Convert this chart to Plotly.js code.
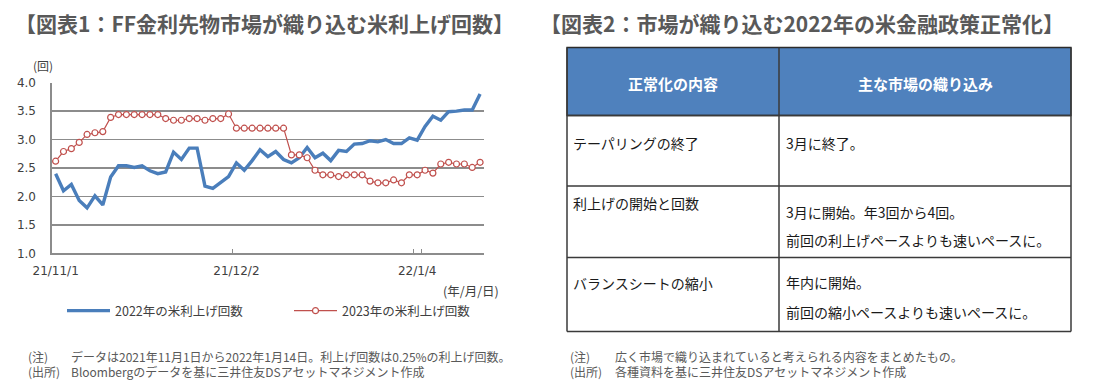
<!DOCTYPE html>
<html><head><meta charset="utf-8">
<script src="https://cdn.plot.ly/plotly-3.0.1.min.js"></script>
<style>html,body{margin:0;padding:0;background:#fff}#chart{width:1099px;height:381px}</style>
</head><body><div id="chart"></div>
<script>
// ---------- data ----------
const dates = [
  '2021-11-01','2021-11-02','2021-11-03','2021-11-04','2021-11-05',
  '2021-11-08','2021-11-09','2021-11-10','2021-11-11','2021-11-12',
  '2021-11-15','2021-11-16','2021-11-17','2021-11-18','2021-11-19',
  '2021-11-22','2021-11-23','2021-11-24','2021-11-25','2021-11-26',
  '2021-11-29','2021-11-30',
  '2021-12-01','2021-12-02','2021-12-03',
  '2021-12-06','2021-12-07','2021-12-08','2021-12-09','2021-12-10',
  '2021-12-13','2021-12-14','2021-12-15','2021-12-16','2021-12-17',
  '2021-12-20','2021-12-21','2021-12-22','2021-12-23','2021-12-24',
  '2021-12-27','2021-12-28','2021-12-29','2021-12-30','2021-12-31',
  '2022-01-03','2022-01-04','2022-01-05','2022-01-06','2022-01-07',
  '2022-01-10','2022-01-11','2022-01-12','2022-01-13','2022-01-14'
];
const hikes2022 = [
  2.40,2.10,2.21,1.93,1.80,2.01,1.85,2.34,2.54,2.54,
  2.51,2.54,2.45,2.40,2.43,2.78,2.65,2.85,2.85,2.18,
  2.14,2.24,2.35,2.59,2.46,2.63,2.82,2.70,2.79,2.65,
  2.59,2.68,2.86,2.68,2.76,2.63,2.81,2.79,2.92,2.93,
  2.98,2.96,3.00,2.93,2.93,3.03,2.99,3.23,3.41,3.34,
  3.49,3.50,3.52,3.52,3.80
];
const hikes2023 = [
  2.62,2.79,2.84,2.95,3.09,3.12,3.14,3.39,3.44,3.44,
  3.44,3.44,3.44,3.44,3.37,3.34,3.34,3.37,3.37,3.34,
  3.37,3.37,3.45,3.20,3.20,3.20,3.20,3.20,3.20,3.20,
  2.73,2.73,2.68,2.46,2.38,2.38,2.35,2.38,2.38,2.38,
  2.27,2.24,2.24,2.29,2.24,2.38,2.38,2.46,2.41,2.57,
  2.60,2.57,2.57,2.51,2.60
];
const tickDates = ['2021-11-01','2021-12-02','2022-01-04'];
const tickLabels = ['21/11/1','21/12/2','22/1/4'];
const seriesNames = ['2022年の米利上げ回数','2023年の米利上げ回数'];

const title1 = '【図表1：FF金利先物市場が織り込む米利上げ回数】';
const title2 = '【図表2：市場が織り込む2022年の米金融政策正常化】';
const yUnit = '(回)';
const xUnit = '(年/月/日)';
const notes1 = [['(注)','データは2021年11月1日から2022年1月14日。利上げ回数は0.25%の利上げ回数。'],
                ['(出所)','Bloombergのデータを基に三井住友DSアセットマネジメント作成']];
const notes2 = [['(注)','広く市場で織り込まれていると考えられる内容をまとめたもの。'],
                ['(出所)','各種資料を基に三井住友DSアセットマネジメント作成']];
const tableHeader = ['正常化の内容','主な市場の織り込み'];
const tableItems = ['テーパリングの終了','利上げの開始と回数','バランスシートの縮小'];
const tableViews = [['3月に終了。'],
                    ['3月に開始。年3回から4回。','前回の利上げペースよりも速いペースに。'],
                    ['年内に開始。','前回の縮小ペースよりも速いペースに。']];

// ---------- layout helpers ----------
const W = 1099, H = 381;
const px = x => x / W;
const py = y => 1 - y / H;
const JP = '"Noto Sans CJK JP", "Noto Sans", sans-serif';
const NUM = '"DejaVu Sans", Verdana, sans-serif';
const GRID = '#8c8c8c';
const BLUE = '#4a7ebb';
const RED = '#c0504d';

const traces = [
  {x: dates, y: hikes2022, type: 'scatter', mode: 'lines', name: seriesNames[0],
   line: {color: BLUE, width: 3.4}, legend: 'legend'},
  {x: dates, y: hikes2023, type: 'scatter', mode: 'lines+markers', name: seriesNames[1],
   line: {color: RED, width: 1.2},
   marker: {symbol: 'circle', size: 6, color: '#ffffff', line: {color: RED, width: 1.2}},
   legend: 'legend2'}
];

const ann = [];
function addText(text, x, y, opt) {
  ann.push(Object.assign({xref: 'paper', yref: 'paper', x: px(x), y: py(y), text: text,
    showarrow: false, xanchor: 'left', yanchor: 'middle',
    font: {family: JP, size: 12, color: '#404040'}}, opt || {}));
}
addText(title1, 13, 23, {font: {family: JP, size: 21, color: '#595959', weight: 'bold'}});
addText(title2, 538, 23, {font: {family: JP, size: 21, color: '#595959', weight: 'bold'}});
addText(yUnit, 31, 65, {font: {family: JP, size: 12, color: '#404040'}});
addText(xUnit, 441, 290, {font: {family: JP, size: 12.5, color: '#404040'}});
notes1.forEach((n, i) => {
  addText(n[0], 26, 356 + i * 15, {font: {family: JP, size: 12, color: '#595959'}});
  addText(n[1], 69, 356 + i * 15, {font: {family: JP, size: 12, color: '#595959'}});
});
notes2.forEach((n, i) => {
  addText(n[0], 568, 356 + i * 15, {font: {family: JP, size: 12, color: '#595959'}});
  addText(n[1], 613, 356 + i * 15, {font: {family: JP, size: 12, color: '#595959'}});
});

// table geometry
const tL = 567, tM = 779, tR = 1071;
const rows = [47.5, 115.5, 186, 257.5, 331.5];
const shapes = [];
shapes.push({type: 'rect', xref: 'paper', yref: 'paper', x0: px(tL), x1: px(tR), y0: py(rows[0]), y1: py(rows[1]),
  fillcolor: '#4f81bd', line: {color: '#2b2b2b', width: 1.3}, layer: 'below'});
for (let i = 1; i < rows.length; i++) {
  shapes.push({type: 'line', xref: 'paper', yref: 'paper', x0: px(tL), x1: px(tR), y0: py(rows[i]), y1: py(rows[i]),
    line: {color: '#3a3a3a', width: 1.5}});
}
[tL, tM, tR].forEach(x => shapes.push({type: 'line', xref: 'paper', yref: 'paper', x0: px(x), x1: px(x),
  y0: py(rows[0]), y1: py(rows[rows.length - 1]), line: {color: '#3a3a3a', width: 1.5}}));

addText(tableHeader[0], (tL + tM) / 2, 83, {xanchor: 'center', font: {family: JP, size: 15, color: '#ffffff', weight: 'bold'}});
addText(tableHeader[1], (tM + tR) / 2, 83, {xanchor: 'center', font: {family: JP, size: 15, color: '#ffffff', weight: 'bold'}});
const bodyFont = {family: JP, size: 14, color: '#1a1a1a'};
const itemY = [143, 203, 283];
const viewY = [[143], [212, 240], [282, 312]];
tableItems.forEach((t, i) => addText(t, 571, itemY[i], {font: bodyFont}));
tableViews.forEach((lines, i) => lines.forEach((t, j) => addText(t, 784, viewY[i][j], {font: bodyFont})));

const layout = {
  width: W, height: H,
  margin: {l: 0, r: 0, t: 0, b: 0},
  paper_bgcolor: '#ffffff', plot_bgcolor: '#ffffff',
  font: {family: JP, size: 12, color: '#404040'},
  xaxis: {
    type: 'category', domain: [px(51.7), px(484)],
    categoryorder: 'array', categoryarray: dates,
    range: [-0.5, dates.length - 0.5], autorange: false,
    tickmode: 'array', tickvals: tickDates, ticktext: tickLabels, tickangle: 0,
    tickson: 'boundaries', ticks: 'inside', ticklen: 4, tickcolor: GRID, tickwidth: 1,
    showgrid: false, zeroline: false,
    showline: true, linecolor: GRID, linewidth: 1.3,
    tickfont: {family: NUM, size: 12, color: '#404040'},
    ticklabelstandoff: 6, fixedrange: true
  },
  yaxis: {
    domain: [py(253.3), py(82.7)], range: [1, 4], autorange: false, dtick: 0.5, tickformat: '.1f',
    showgrid: true, gridcolor: GRID, gridwidth: 1.3,
    showline: true, linecolor: GRID, linewidth: 1.3, zeroline: false,
    ticks: '', tickfont: {family: NUM, size: 12, color: '#404040'},
    ticklabelstandoff: 12, fixedrange: true
  },
  legend: {x: px(62), y: py(311), xanchor: 'left', yanchor: 'middle', orientation: 'h', itemwidth: 43,
    font: {family: JP, size: 12.5, color: '#404040'}, bgcolor: 'rgba(0,0,0,0)'},
  legend2: {x: px(289), y: py(311), xanchor: 'left', yanchor: 'middle', orientation: 'h', itemwidth: 43,
    font: {family: JP, size: 12.5, color: '#404040'}, bgcolor: 'rgba(0,0,0,0)'},
  showlegend: true,
  annotations: ann,
  shapes: shapes
};

Plotly.newPlot('chart', traces, layout, {displayModeBar: false, staticPlot: true});
</script>
</body></html>
